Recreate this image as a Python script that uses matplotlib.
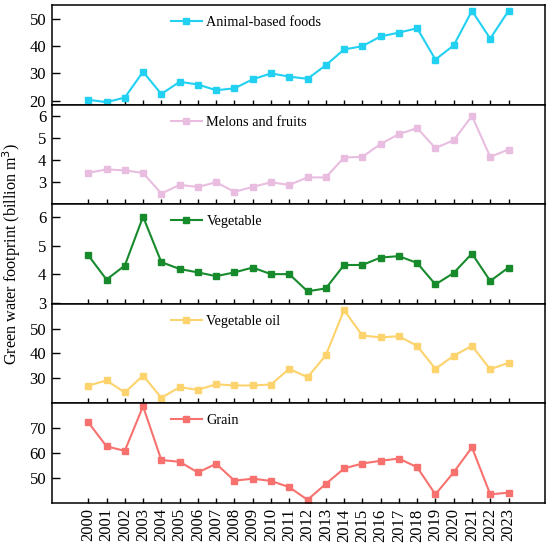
import matplotlib.pyplot as plt

plt.rcParams['font.family'] = ['Liberation Serif', 'DejaVu Serif']

# Data
years = list(range(2000, 2024))

animal = [20.3, 19.4, 21.1, 30.6, 22.4, 26.9, 25.9, 23.8, 24.5, 27.8, 30.0, 28.8,
          28.0, 33.0, 38.8, 40.0, 43.6, 45.0, 46.6, 35.1, 40.3, 53.0, 42.8, 53.0]
melons = [3.43, 3.58, 3.54, 3.42, 2.49, 2.88, 2.79, 3.00, 2.57, 2.79, 3.00, 2.88,
          3.22, 3.22, 4.12, 4.15, 4.73, 5.18, 5.45, 4.55, 4.90, 6.00, 4.15, 4.48]
vegetable = [4.67, 3.82, 4.31, 6.02, 4.43, 4.19, 4.07, 3.94, 4.07, 4.24, 4.01, 4.01,
             3.41, 3.51, 4.33, 4.33, 4.59, 4.64, 4.40, 3.65, 4.05, 4.73, 3.77, 4.24]
veg_oil = [26.6, 28.8, 23.8, 30.8, 21.6, 26.0, 24.9, 27.2, 26.7, 26.7, 27.1, 33.6,
           30.1, 39.2, 57.9, 47.4, 46.6, 47.1, 43.1, 33.6, 39.0, 43.1, 33.4, 36.1]
grain = [72.4, 62.7, 60.9, 78.8, 57.2, 56.5, 52.2, 55.7, 48.9, 49.7, 48.8, 46.3,
         41.2, 47.6, 53.8, 55.8, 56.9, 57.8, 54.3, 43.4, 52.3, 62.3, 43.4, 44.1]

series = [animal, melons, vegetable, veg_oil, grain]
names = ['Animal-based foods', 'Melons and fruits', 'Vegetable', 'Vegetable oil', 'Grain']
colors = ['#22d0f2', '#e8bde0', '#178a2c', '#fcd36c', '#f7726f']
ylims = [(18.4, 55), (2.0, 6.5), (2.97, 6.45), (19.3, 60.5), (40.0, 80.0)]
yticks = [[20, 30, 40, 50], [3, 4, 5, 6], [3, 4, 5, 6], [30, 40, 50], [50, 60, 70]]

fig, axes = plt.subplots(5, 1, figsize=(5.5, 5.43), dpi=100, sharex=True)
fig.subplots_adjust(left=0.094, right=0.991, top=0.990, bottom=0.074, hspace=0)

for ax, vals, name, c, yl, yt in zip(axes, series, names, colors, ylims, yticks):
    ax.plot(years, vals, color=c, marker='s', markersize=5, linewidth=1.5, label=name)
    ax.set_ylim(*yl)
    ax.set_yticks(yt)
    ax.set_xlim(1998, 2025)
    ax.set_xticks(years)
    ax.tick_params(direction='in', width=1, labelsize=12)
    ax.tick_params(axis='y', length=5.5, pad=4)
    ax.tick_params(axis='x', length=3.5, pad=4)
    for s in ax.spines.values():
        s.set_linewidth(1.1)
    ax.legend(loc='upper left', bbox_to_anchor=(0.215, 1.02), frameon=False,
              fontsize=10.3, handlelength=2.2, handletextpad=0.3)

axes[-1].set_xticklabels([str(y) for y in years], rotation=90)

fig.text(0.022, 0.532, 'Green water footprint (billion m$^3$)', rotation=90,
         ha='center', va='center', fontsize=11.6)

fig.savefig('out.png')
